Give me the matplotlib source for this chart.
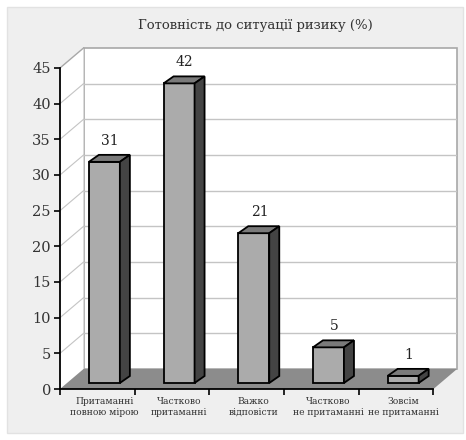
import matplotlib
matplotlib.use("Agg")
import matplotlib.pyplot as plt
from matplotlib.patches import Polygon, Rectangle
import numpy as np

title = "Готовність до ситуації ризику (%)"
categories = ["Притаманні\nповною мірою", "Частково\nпритаманні", "Важко\nвідповісти",
              "Частково\nне притаманні", "Зовсім\nне притаманні"]
values = [31, 42, 21, 5, 1]
yticks = [0, 5, 10, 15, 20, 25, 30, 35, 40, 45]

# pseudo-3D geometry (data units)
DX, DY = 0.315, 2.8          # wall depth
FX, FY = 0.094, 0.84         # front plane of bars
BX, BY = 0.134, 0.98         # bar depth
BW = 0.415                   # bar width
YMAX = 45

W, H = 466, 440
fig = plt.figure(figsize=(W / 100, H / 100), dpi=100)
fig.patch.set_facecolor("white")
fig.patches.append(Rectangle((7 / W, 7 / H), 456 / W, 426 / H, transform=fig.transFigure,
                             facecolor="#efefef", edgecolor="#e2e2e2", lw=1, zorder=-5))

ax = fig.add_axes([60 / W, 51 / H, 397 / W, 341 / H])
ax.set_facecolor("none")
n = len(values)
x0, x1 = -0.5, n - 0.5
ax.set_xlim(x0, x1 + DX)
ax.set_ylim(0, YMAX + DY)

wall_edge = "#a8a8a8"
grid_c = "#c4c4c4"
# back wall
ax.add_patch(Rectangle((x0 + DX, DY), x1 - x0, YMAX, facecolor="white", edgecolor=wall_edge,
                       lw=1.2, zorder=1, clip_on=False))
# side wall
ax.add_patch(Polygon([(x0, 0), (x0 + DX, DY), (x0 + DX, YMAX + DY), (x0, YMAX)], closed=True,
                     facecolor="white", edgecolor="none", zorder=1, clip_on=False))
ax.plot([x0, x0 + DX], [YMAX, YMAX + DY], color=wall_edge, lw=1, zorder=2, clip_on=False)
# gridlines
for v in yticks[1:-1]:
    ax.plot([x0 + DX, x1 + DX], [v + DY, v + DY], color=grid_c, lw=1, zorder=2)
    ax.plot([x0, x0 + DX], [v, v + DY], color=grid_c, lw=0.8, zorder=2)
# floor
ax.add_patch(Polygon([(x0, 0), (x1, 0), (x1 + DX, DY), (x0 + DX, DY)], closed=True,
                     facecolor="#8c8c8c", edgecolor="none", zorder=3, clip_on=False))

# bars
xs = np.arange(n) + FX
ax.bar(xs, values, width=BW, bottom=FY, color="#ababab", edgecolor="black", lw=1.3, zorder=5)
for xc, v in zip(xs, values):
    l, r = xc - BW / 2, xc + BW / 2
    top = v + FY
    ax.add_patch(Polygon([(l, top), (r, top), (r + BX, top + BY), (l + BX, top + BY)], closed=True,
                         facecolor="#7a7a7a", edgecolor="black", lw=1.3, zorder=5))
    ax.add_patch(Polygon([(r, FY), (r + BX, FY + BY), (r + BX, top + BY), (r, top)], closed=True,
                         facecolor="#444444", edgecolor="black", lw=1.3, zorder=5))
    ax.text(xc + BX / 2 + 0.01, top + BY + 2.0, f"{v}", ha="center", va="center",
            fontsize=10, family="DejaVu Serif", color="#222222", zorder=6)

# axes
for s in ["top", "right"]:
    ax.spines[s].set_visible(False)
ax.spines["left"].set_bounds(0, YMAX)
ax.spines["bottom"].set_bounds(x0, x1)
for s in ["left", "bottom"]:
    ax.spines[s].set_linewidth(1.3)
    ax.spines[s].set_zorder(4)
ax.set_yticks(yticks)
ax.set_yticklabels([str(t) for t in yticks], fontsize=10.5, family="DejaVu Serif", color="#333333")
ax.tick_params(axis="y", length=4.5, width=1.2, pad=2)
ax.set_xticks(xs)
ax.set_xticklabels(categories, fontsize=6.6, family="DejaVu Serif", color="#333333", linespacing=1.2)
ax.set_xticks(np.arange(n + 1) - 0.5, minor=True)
ax.tick_params(axis="x", which="major", length=0, pad=6)
ax.tick_params(axis="x", which="minor", length=4.5, width=1.2)

fig.text(255 / W, 1 - 25 / H, title, ha="center", va="center", fontsize=9.5,
         family="DejaVu Serif", color="#333333")

fig.savefig("out.png", dpi=100)
